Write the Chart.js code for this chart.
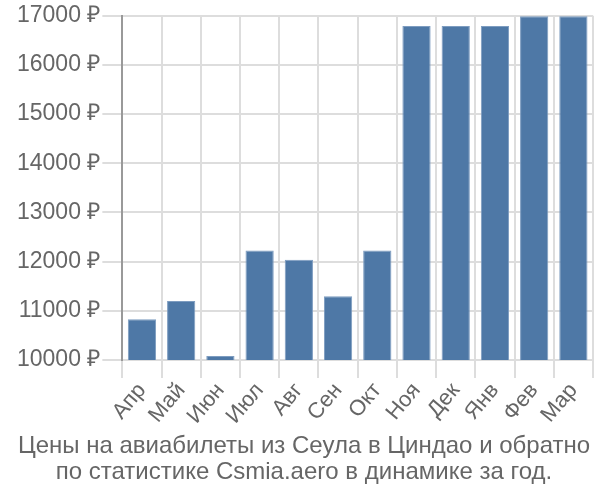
<!DOCTYPE html>
<html>
<head>
<meta charset="utf-8">
<script src="https://cdn.jsdelivr.net/npm/chart.js@4"></script>
<style>
  html, body { margin: 0; padding: 0; background: #fff; }
  #wrap { width: 600px; height: 500px; position: relative; }
</style>
</head>
<body>
<div id="wrap"><canvas id="chart"></canvas></div>
<script>
'use strict';

// Months (Apr → Mar) and average ticket price, ₽
const months = ['Апр', 'Май', 'Июн', 'Июл', 'Авг', 'Сен', 'Окт', 'Ноя', 'Дек', 'Янв', 'Фев', 'Мар'];
const prices = [10830, 11200, 10080, 12225, 12040, 11295, 12225, 16795, 16795, 16795, 16990, 16990];
const titleLines = [
  'Цены на авиабилеты из Сеула в Циндао и обратно',
  'по статистике Csmia.aero в динамике за год.',
];

const FONT = 'Liberation Sans, Arial, sans-serif';

new Chart(document.getElementById('chart'), {
  type: 'bar',
  data: {
    labels: months,
    datasets: [{
      data:            prices,
      backgroundColor: '#4e78a6',
      borderColor:     '#7d9cc0',
      borderWidth:     1,
    }],
  },
  options: {
    responsive: true,
    maintainAspectRatio: false,
    animation: false,
    layout: { padding: { top: 2, right: 7, left: 15, bottom: 14 } },
    plugins: {
      legend:  { display: false },
      tooltip: { enabled: false },
      title: {
        display:  true,
        position: 'bottom',
        text:     titleLines,
        color:    '#666',
        font:     { family: FONT, size: 24, weight: 'normal', lineHeight: 1.1 },
        padding:  { top: 4, bottom: 0 },
      },
    },
    scales: {
      x: {
        grid:   { color: '#ddd', lineWidth: 2, tickLength: 18, offset: true },
        border: { color: '#ddd' },
        ticks:  {
          color: '#666', font: { family: FONT, size: 22 },
          maxRotation: 50, minRotation: 50, padding: 0, autoSkip: false,
        },
      },
      y: {
        min: 10000,
        max: 17000,
        grid:   { color: '#ddd', lineWidth: 2, tickLength: 20 },
        border: { color: '#999', width: 2 },
        ticks:  {
          stepSize: 1000,
          color: '#666',
          font: { family: FONT, size: 23 },
          padding: 2,
          callback: v => v + ' ₽',
        },
      },
    },
  },
});
</script>
</body>
</html>
